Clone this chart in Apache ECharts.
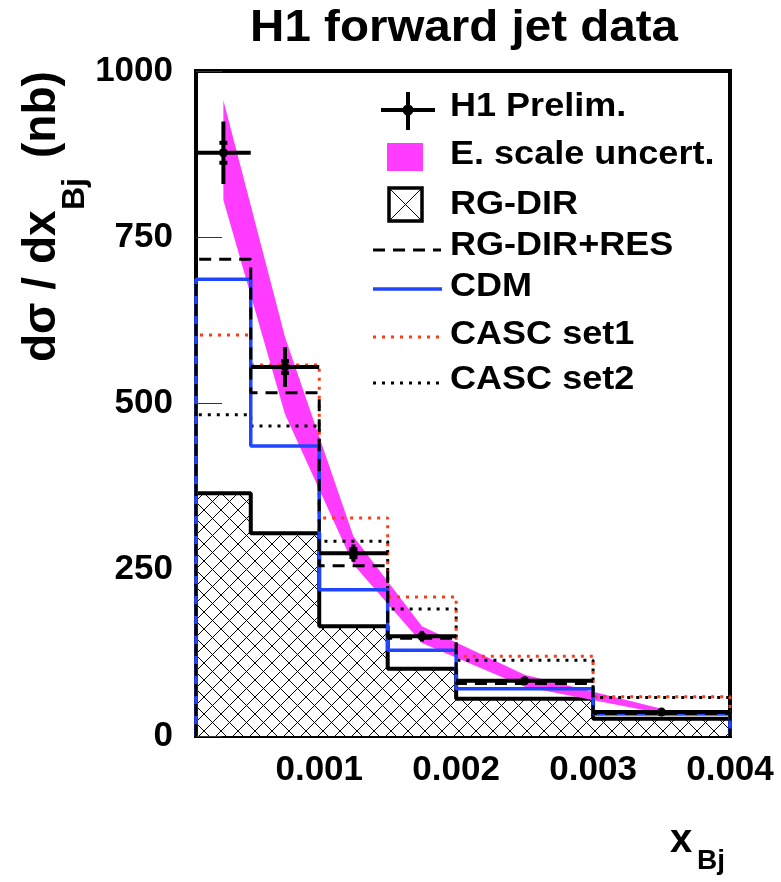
<!DOCTYPE html>
<html><head><meta charset="utf-8">
<script src="https://cdn.jsdelivr.net/npm/echarts@6/dist/echarts.min.js"></script>
<style>html,body{margin:0;padding:0;background:#fff}#c{width:781px;height:882px}</style>
</head><body><div id="c"></div>
<script>
// ---- data ----
const binEdges   = [0.0001, 0.0005, 0.001, 0.0015, 0.002, 0.003, 0.004];
const dataX      = [0.0003, 0.00075, 0.00125, 0.00175, 0.0025, 0.0035];
const dataY      = [877, 555, 275, 150, 83, 36];
const dataErrTot = [47, 30, 13, 8, 5, 4];
const dataErrStat= [15, 9, 6, 0, 0, 0];
const rgDir      = [365, 305, 165, 101, 56, 26];
const rgDirRes   = [717, 516, 256, 147, 79, 34];
const cdm        = [687, 436, 220, 129, 71, 33];
const casc1      = [603, 558, 328, 209, 120, 59];
const casc2      = [483, 466, 293, 191, 114, 58];
const bandX      = [0.0003, 0.00075, 0.00125, 0.00175, 0.0025, 0.0035];
const bandUpper  = [956, 600, 300, 165, 92, 41];
const bandLower  = [806, 484, 258, 140, 74, 34];
const yTicks     = [0, 250, 500, 750, 1000];
const xTicks     = [0.001, 0.002, 0.003, 0.004];

const FONT = 'Liberation Sans, Arial, Helvetica, sans-serif';
const MAGENTA = '#ff3cff', BLUE = '#1f45ff', RED = '#ff3a14';

function stepData(vals){
  const d = [[binEdges[0], 0]];
  vals.forEach((v,i)=>d.push([binEdges[i], v]));
  d.push([binEdges[binEdges.length-1], vals[vals.length-1]]);
  d.push([binEdges[binEdges.length-1], 0]);
  return d;
}
// cross-hatch pattern
const pc = document.createElement('canvas');
const PS = 17; pc.width = PS; pc.height = PS;
const g = pc.getContext('2d');
g.fillStyle = '#fff'; g.fillRect(0,0,PS,PS);
g.strokeStyle = '#000'; g.lineWidth = 1;
g.beginPath(); g.moveTo(0,0); g.lineTo(PS,PS); g.moveTo(PS,0); g.lineTo(0,PS); g.stroke();

function stepLine(name, vals, color, width, type, z){
  return {name, type:'line', step:'end', data: stepData(vals), symbol:'none', silent:true,
    lineStyle:{color, width, type, cap:'butt'}, z: z||3, animation:false};
}

const chart = echarts.init(document.getElementById('c'), null, {renderer:'canvas'});
const legendY = [110, 155, 205, 246, 287, 335, 380];
const legendTxt = ['H1 Prelim.', 'E. scale uncert.', 'RG-DIR', 'RG-DIR+RES', 'CDM', 'CASC set1', 'CASC set2'];
const textEl = (text, x, y, size, extra) => Object.assign({type:'text', x, y, z:100,
  style:{text, fill:'#000', font:'bold '+size+'px '+FONT, textAlign:'left', textVerticalAlign:'middle'}}, extra||{});

const graphics = [
  // title
  {type:'text', x:464, y:29, z:100, scaleX:1.08, style:{text:'H1 forward jet data', fill:'#000', font:'bold 44px '+FONT, textAlign:'center', textVerticalAlign:'middle'}},
  // y-axis name (rotated)
  {type:'group', x:58, y:362, rotation:Math.PI/2, z:100, children:[
    {type:'text', x:0, y:-16, style:{text:'dσ / dx', fill:'#000', font:'bold 46px '+FONT, textAlign:'left', textVerticalAlign:'middle'}},
    {type:'text', x:152, y:17, style:{text:'Bj', fill:'#000', font:'bold 32px '+FONT, textAlign:'left', textVerticalAlign:'middle'}},
    {type:'text', x:204, y:-16, style:{text:'(nb)', fill:'#000', font:'bold 46px '+FONT, textAlign:'left', textVerticalAlign:'middle'}}
  ]},
  // x-axis name
  textEl('x', 670, 841, 40),
  textEl('Bj', 697, 861, 28),
  // legend symbols
  {type:'line', z:100, shape:{x1:381,y1:legendY[0],x2:435,y2:legendY[0]}, style:{stroke:'#000', lineWidth:4}},
  {type:'line', z:100, shape:{x1:408,y1:92,x2:408,y2:130}, style:{stroke:'#000', lineWidth:4}},
  {type:'circle', z:100, shape:{cx:408, cy:legendY[0], r:5.5}, style:{fill:'#000'}},
  {type:'rect', z:100, shape:{x:387, y:143, width:36, height:28}, style:{fill:MAGENTA}},
  {type:'rect', z:100, shape:{x:389, y:188, width:33, height:33}, style:{fill:'#fff', stroke:'#000', lineWidth:3.5}},
  {type:'line', z:100, shape:{x1:389,y1:188,x2:422,y2:221}, style:{stroke:'#000', lineWidth:1}},
  {type:'line', z:100, shape:{x1:422,y1:188,x2:389,y2:221}, style:{stroke:'#000', lineWidth:1}},
  {type:'line', z:100, shape:{x1:373,y1:250,x2:441,y2:250}, style:{stroke:'#000', lineWidth:3, lineDash:[12,8]}},
  {type:'line', z:100, shape:{x1:373,y1:289,x2:442,y2:289}, style:{stroke:BLUE, lineWidth:3.5}},
  {type:'line', z:100, shape:{x1:373,y1:337,x2:442,y2:337}, style:{stroke:RED, lineWidth:3, lineDash:[3,6]}},
  {type:'line', z:100, shape:{x1:373,y1:383,x2:442,y2:383}, style:{stroke:'#000', lineWidth:3, lineDash:[3,6]}}
];
legendTxt.forEach((t,i)=>graphics.push(textEl(t, 450, legendY[i] - (i===0?3:0), 34, {scaleX:1.06})));

const option = {
  animation:false,
  backgroundColor:'#fff',
  grid:{left:196, right:51, top:71, bottom:146, show:true, borderColor:'#000', borderWidth:4, backgroundColor:'transparent', containLabel:false, outerBoundsMode:'none'},
  xAxis:{type:'value', min:0.0001, max:0.004,
    axisLine:{show:true, lineStyle:{color:'#000', width:4}},
    axisTick:{show:true, inside:true, length:26, customValues:xTicks, lineStyle:{color:'#333', width:1}},
    axisLabel:{show:true, customValues:xTicks, margin:17, color:'#000', fontFamily:FONT, fontWeight:'bold', fontSize:35,
      formatter:v=>Number(v).toFixed(3)},
    splitLine:{show:false}},
  yAxis:{type:'value', min:0, max:1000, interval:250,
    axisLine:{show:true, lineStyle:{color:'#000', width:4}},
    axisTick:{show:true, inside:true, length:26, customValues:yTicks, lineStyle:{color:'#333', width:1}},
    axisLabel:{show:true, customValues:yTicks, margin:23, color:'#000', fontFamily:FONT, fontWeight:'bold', fontSize:35,
      formatter:v=>String(Math.round(Number(v)))},
    splitLine:{show:false}},
  graphic: graphics,
  series:[
    {name:'RG-DIR', type:'line', step:'end', data:stepData(rgDir), symbol:'none', silent:true, z:1,
      lineStyle:{color:'#000', width:4}, areaStyle:{color:{image:pc, repeat:'repeat'}, opacity:1}},
    {name:'E. scale uncert.', type:'custom', z:2, silent:true, clip:true,
      data:[[bandX[0], bandUpper[0]]],
      renderItem:(params, api)=>{
        const pts = [];
        bandX.forEach((x,i)=>pts.push(api.coord([x, bandUpper[i]])));
        for(let i=bandX.length-1;i>=0;i--) pts.push(api.coord([bandX[i], bandLower[i]]));
        return {type:'polygon', shape:{points:pts}, style:{fill:MAGENTA}};
      }},
    stepLine('CASC set2', casc2, '#000', 3, [3,6], 3),
    stepLine('CASC set1', casc1, RED, 3, [3,6], 3),
    stepLine('CDM', cdm, BLUE, 3.5, 'solid', 3),
    stepLine('RG-DIR+RES', rgDirRes, '#000', 3, [12,8], 4),
    {name:'H1 Prelim.', type:'custom', z:6, silent:true,
      data: dataX.map((x,i)=>[x, dataY[i]]),
      encode:{x:0, y:1},
      renderItem:(params, api)=>{
        const i = params.dataIndex;
        const x = api.value(0), y = api.value(1);
        const c = api.coord([x,y]);
        const l = api.coord([binEdges[i], y]), r = api.coord([binEdges[i+1], y]);
        const t = api.coord([x, y + dataErrTot[i]]), b = api.coord([x, y - dataErrTot[i]]);
        const ch = [
          {type:'line', shape:{x1:l[0], y1:l[1], x2:r[0], y2:r[1]}, style:{stroke:'#000', lineWidth:4}},
          {type:'line', shape:{x1:t[0], y1:t[1], x2:b[0], y2:b[1]}, style:{stroke:'#000', lineWidth:4}},
          {type:'circle', shape:{cx:c[0], cy:c[1], r:4.5}, style:{fill:'#000'}}
        ];
        if (dataErrStat[i] > 0){
          const s1 = api.coord([x, y + dataErrStat[i]]), s2 = api.coord([x, y - dataErrStat[i]]);
          ch.push({type:'line', shape:{x1:s1[0]-4, y1:s1[1], x2:s1[0]+4, y2:s1[1]}, style:{stroke:'#000', lineWidth:4}});
          ch.push({type:'line', shape:{x1:s2[0]-4, y1:s2[1], x2:s2[0]+4, y2:s2[1]}, style:{stroke:'#000', lineWidth:4}});
        }
        return {type:'group', children:ch};
      }}
  ]
};
chart.setOption(option);
</script>
</body></html>
